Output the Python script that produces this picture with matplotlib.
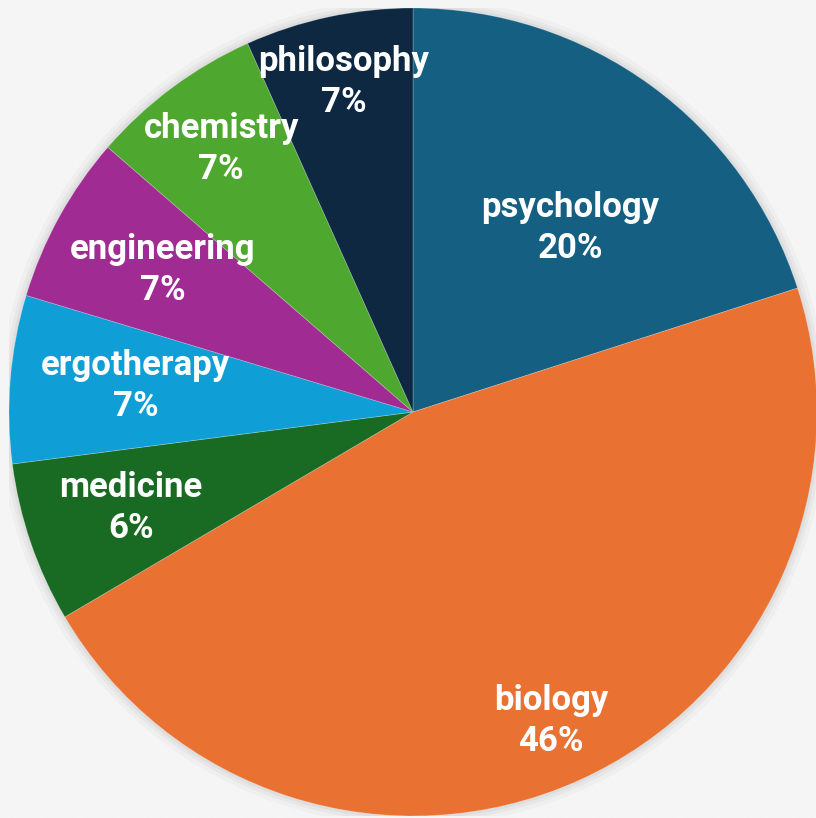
import matplotlib.pyplot as plt
from matplotlib.patches import Rectangle, Circle
import numpy as np

fields = ["psychology", "biology", "medicine", "ergotherapy", "engineering", "chemistry", "philosophy"]
shares = [20.0, 46.4, 6.4, 6.7, 6.7, 6.9, 6.7]
colours = ["#156082", "#E97132", "#196B24", "#0F9ED5", "#A02B93", "#4EA72E", "#0E2841"]
# label placement (fraction of radius, angle in degrees)
label_r = [0.60, 0.837, 0.737, 0.689, 0.712, 0.806, 0.834]
label_ang = [49.5, -65.9, 198.8, 174.6, 150.4, 126.1, 101.8]

plt.rcParams['hatch.linewidth'] = 1.0

fig = plt.figure(figsize=(8.16, 8.18), dpi=100)
fig.patch.set_facecolor('#E8E8E8')

# striped background on its own axes
bg_ax = fig.add_axes([0, 0, 1, 1])
bg_ax.axis('off')
bg_ax.add_patch(Rectangle((0, 0), 1, 1, transform=bg_ax.transAxes, facecolor='#E8E8E8',
                          hatch='\\\\\\\\\\\\\\\\\\\\\\\\\\\\\\\\', edgecolor='#F6F6F6', linewidth=0))

ax = fig.add_axes([(413 - 404) / 816, (818 - 412 - 404) / 818, 808 / 816, 808 / 818])
ax.set_xlim(-1, 1)
ax.set_ylim(-1, 1)
ax.axis('off')

# soft shadow
for k, a in zip([1.025, 1.015, 1.007], [0.05, 0.07, 0.09]):
    ax.add_patch(Circle((0, 0), k, facecolor='#888888', alpha=a, edgecolor='none', zorder=1))

wedges, _ = ax.pie(shares, colors=colours, startangle=90, counterclock=False, radius=1,
                   wedgeprops=dict(edgecolor=(1, 1, 1, 0.25), linewidth=0.6, zorder=2))
ax.set_xlim(-1, 1)
ax.set_ylim(-1, 1)

for name, s, r, a in zip(fields, shares, label_r, label_ang):
    t = np.deg2rad(a)
    ax.text(r * np.cos(t), r * np.sin(t), f"{name}\n{s:.0f}%", ha='center', va='center',
            color='white', fontsize=25, fontweight='bold', family='Roboto',
            linespacing=1.3, zorder=5)

fig.savefig('out.png', dpi=100, facecolor=fig.get_facecolor())
